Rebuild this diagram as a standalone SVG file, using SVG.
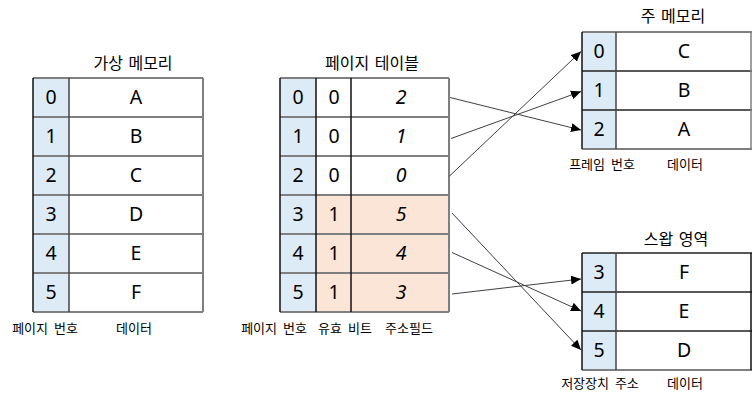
<svg xmlns="http://www.w3.org/2000/svg" width="752" height="400" viewBox="0 0 752 400">
<style>
.title{font-family:"Noto Sans CJK KR","Noto Sans",sans-serif;font-size:16px;fill:#000;text-anchor:middle;word-spacing:2px}
.lbl{font-family:"Noto Sans CJK KR","Noto Sans",sans-serif;font-size:13px;fill:#000;text-anchor:middle;word-spacing:3px}
.cell{font-family:"Noto Sans","Noto Sans CJK KR",sans-serif;font-size:19.5px;fill:#000;text-anchor:middle}
.it{font-style:italic}
.hl{stroke:#7f7f7f;stroke-width:2}
.hi{stroke:#222;stroke-width:1.5}
.vl{stroke:#111;stroke-width:1.5}
.conn line{stroke:#404040;stroke-width:1;marker-end:url(#ah)}
</style>
<defs>
<marker id="ah" viewBox="0 0 10 10" refX="10" refY="5" markerWidth="10" markerHeight="10" markerUnits="userSpaceOnUse" orient="auto">
<path d="M0,0.5 L10,5 L0,9.5 z" fill="#000"/>
</marker>
</defs>
<rect width="752" height="400" fill="#fff"/>

<g id="virtual-memory">
<text class="title" x="133" y="69">가상 메모리</text>
<rect x="33" y="78" width="36" height="234" fill="#DDEBF7"/>
<g class="hl">
<line x1="33" y1="78" x2="203" y2="78"/><line x1="33" y1="117" x2="203" y2="117"/><line x1="33" y1="156" x2="203" y2="156"/><line x1="33" y1="195" x2="203" y2="195"/><line x1="33" y1="234" x2="203" y2="234"/><line x1="33" y1="273" x2="203" y2="273"/><line x1="33" y1="312" x2="203" y2="312"/>
<line x1="203" y1="78" x2="203" y2="312"/>
</g>
<g class="vl"><line x1="33" y1="78" x2="33" y2="312"/><line x1="69" y1="78" x2="69" y2="312" stroke="#444"/></g>
<g class="cell">
<text x="51" y="104">0</text><text x="51" y="143">1</text><text x="51" y="182">2</text><text x="51" y="221">3</text><text x="51" y="260">4</text><text x="51" y="299">5</text>
<text x="136" y="104">A</text><text x="136" y="143">B</text><text x="136" y="182">C</text><text x="136" y="221">D</text><text x="136" y="260">E</text><text x="136" y="299">F</text>
</g>
<text class="lbl" x="45" y="333">페이지 번호</text>
<text class="lbl" x="134" y="333">데이터</text>
</g>

<g id="page-table">
<text class="title" x="372" y="69">페이지 테이블</text>
<rect x="280" y="78" width="36" height="234" fill="#DDEBF7"/>
<rect x="316" y="195" width="133" height="117" fill="#FBE5D6"/>
<g class="hl">
<line x1="280" y1="78" x2="449" y2="78"/><line x1="280" y1="117" x2="449" y2="117"/><line x1="280" y1="156" x2="449" y2="156"/><line x1="280" y1="195" x2="449" y2="195"/><line x1="280" y1="234" x2="449" y2="234"/><line x1="280" y1="273" x2="449" y2="273"/><line x1="280" y1="312" x2="449" y2="312"/>
<line x1="449" y1="78" x2="449" y2="312"/>
</g>
<g class="vl"><line x1="280" y1="78" x2="280" y2="312"/><line x1="316" y1="78" x2="316" y2="312"/><line x1="351" y1="78" x2="351" y2="312"/></g>
<g class="cell">
<text x="298" y="104">0</text><text x="298" y="143">1</text><text x="298" y="182">2</text><text x="298" y="221">3</text><text x="298" y="260">4</text><text x="298" y="299">5</text>
<text x="334" y="104">0</text><text x="334" y="143">0</text><text x="334" y="182">0</text><text x="334" y="221">1</text><text x="334" y="260">1</text><text x="334" y="299">1</text>
<text class="it" x="401" y="104">2</text><text class="it" x="401" y="143">1</text><text class="it" x="401" y="182">0</text><text class="it" x="401" y="221">5</text><text class="it" x="401" y="260">4</text><text class="it" x="401" y="299">3</text>
</g>
<text class="lbl" x="274" y="333">페이지 번호</text>
<text class="lbl" x="345" y="333">유효 비트</text>
<text class="lbl" x="409" y="333">주소필드</text>
</g>

<g id="main-memory">
<text class="title" x="673" y="22">주 메모리</text>
<rect x="582" y="32" width="34" height="117" fill="#DDEBF7"/>
<g class="hl"><line x1="582" y1="32" x2="752" y2="32"/><line x1="582" y1="149" x2="752" y2="149"/></g>
<g class="hi"><line x1="582" y1="71" x2="752" y2="71"/><line x1="582" y1="110" x2="752" y2="110"/></g>
<g class="vl"><line x1="582" y1="32" x2="582" y2="149"/><line x1="616" y1="32" x2="616" y2="149" stroke="#444"/><line x1="751" y1="32" x2="751" y2="149" stroke="#7f7f7f"/></g>
<g class="cell">
<text x="599" y="58">0</text><text x="599" y="97">1</text><text x="599" y="136">2</text>
<text x="684" y="58">C</text><text x="684" y="97">B</text><text x="684" y="136">A</text>
</g>
<text class="lbl" x="602" y="169">프레임 번호</text>
<text class="lbl" x="685" y="169">데이터</text>
</g>

<g id="swap-area">
<text class="title" x="676" y="245">스왑 영역</text>
<rect x="582" y="253" width="34" height="117" fill="#DDEBF7"/>
<g class="hi"><line x1="582" y1="253" x2="752" y2="253"/><line x1="582" y1="292" x2="752" y2="292"/><line x1="582" y1="331" x2="752" y2="331"/></g>
<g class="hl"><line x1="582" y1="370" x2="752" y2="370"/></g>
<g class="vl"><line x1="582" y1="253" x2="582" y2="370"/><line x1="616" y1="253" x2="616" y2="370" stroke="#444"/><line x1="751" y1="253" x2="751" y2="370"/></g>
<g class="cell">
<text x="599" y="279">3</text><text x="599" y="318">4</text><text x="599" y="357">5</text>
<text x="684" y="279">F</text><text x="684" y="318">E</text><text x="684" y="357">D</text>
</g>
<text class="lbl" x="600" y="388">저장장치 주소</text>
<text class="lbl" x="685" y="388">데이터</text>
</g>

<g id="connectors" class="conn">
<line x1="450" y1="97.5" x2="581" y2="130"/>
<line x1="451" y1="138.5" x2="581" y2="91.5"/>
<line x1="449" y1="176.5" x2="581" y2="51.5"/>
<line x1="452" y1="213" x2="581" y2="350"/>
<line x1="452" y1="252.5" x2="581" y2="311"/>
<line x1="452" y1="294" x2="581" y2="279"/>
</g>
</svg>
